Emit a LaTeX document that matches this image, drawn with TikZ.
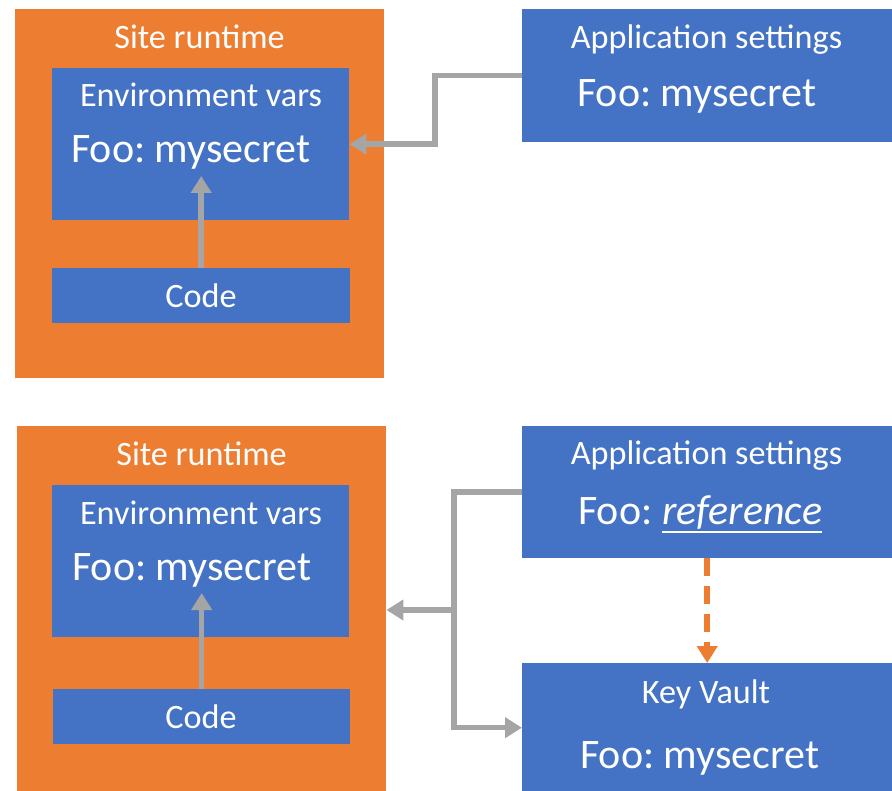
\documentclass[tikz,border=0pt]{standalone}
\usepackage{fontspec}
\setmainfont{Carlito}
\frenchspacing
\usetikzlibrary{arrows.meta}
\definecolor{runtime}{HTML}{ED7D31}
\definecolor{panel}{HTML}{4472C4}
\definecolor{wire}{HTML}{A5A5A5}
\tikzset{
  region/.style={fill=runtime, draw=none, anchor=north west, inner sep=0pt},
  panelbox/.style={fill=panel, draw=none, anchor=north west, inner sep=0pt},
  title/.style={text=white, inner sep=0pt, anchor=base, font=\fontsize{34.2}{40}\selectfont},
  value/.style={text=white, inner sep=0pt, anchor=base west, font=\fontsize{42}{50}\selectfont},
  conn/.style={draw=wire, line width=5.5pt, -{Triangle[width=20pt,length=17pt]}},
  lookup/.style={draw=runtime, line width=6pt, dash pattern=on 18pt off 10pt, -{Triangle[width=20pt,length=17pt]}}
}
\begin{document}
\begin{tikzpicture}[x=1pt,y=-1pt]
\useasboundingbox (0,0) rectangle (892,791);

% ---- upper scenario: plain app setting ----
\node[region, minimum width=369pt, minimum height=369pt] (site1) at (15,9) {};
\node[panelbox, minimum width=297pt, minimum height=152pt] (env1) at (52,68) {};
\node[panelbox, minimum width=298pt, minimum height=55pt] (code1) at (52,268) {};
\node[panelbox, minimum width=370pt, minimum height=133pt] (app1) at (522,9) {};

\node[title] (site1t) at (199.5,49) {Site runtime};
\node[title] (env1t) at (201,107) {Environment vars};
\node[value] (env1v) at (71,163) {Foo: mysecret};
\node[title] (code1t) at (201,308) {Code};
\node[title] (app1t) at (706.5,49) {Application settings};
\node[value] (app1v) at (577,107) {Foo: mysecret};

\draw[conn] (app1.west) -- ++(-87,0) |- (env1.east);
\draw[conn] (code1.north) -- ++(0,-92);

% ---- lower scenario: Key Vault reference ----
\node[region, minimum width=369pt, minimum height=366pt] (site2) at (17,426) {};
\node[panelbox, minimum width=297pt, minimum height=152pt] (env2) at (52,485) {};
\node[panelbox, minimum width=297pt, minimum height=55pt] (code2) at (53,689) {};
\node[panelbox, minimum width=370pt, minimum height=132pt] (app2) at (522,426) {};
\node[panelbox, minimum width=370pt, minimum height=129pt] (kv) at (522,663) {};

\node[title] (site2t) at (201.5,466) {Site runtime};
\node[title] (env2t) at (201,524) {Environment vars};
\node[value] (env2v) at (72,580) {Foo: mysecret};
\node[title] (code2t) at (201,728) {Code};
\node[title] (app2t) at (706.5,465) {Application settings};
\node[value] (app2v) at (578,525) {Foo:};
\node[value, font=\fontsize{42}{50}\selectfont\itshape] (app2r) at (662,525) {reference};
\draw[white, line width=2pt] ([yshift=-7pt]app2r.base west) -- ([yshift=-7pt]app2r.base east);
\node[title] (kvt) at (706,703) {Key Vault};
\node[value] (kvv) at (580,768) {Foo: mysecret};

\coordinate (split) at (454,610);
\draw[conn] (app2.west) -- ++(-68,0) |- (kv.west);
\draw[conn] (split) -- (site2.east |- split);
\draw[conn] (code2.north) -- ++(0,-96);
\draw[lookup] (app2.south) -- (kv.north);
\end{tikzpicture}
\end{document}
